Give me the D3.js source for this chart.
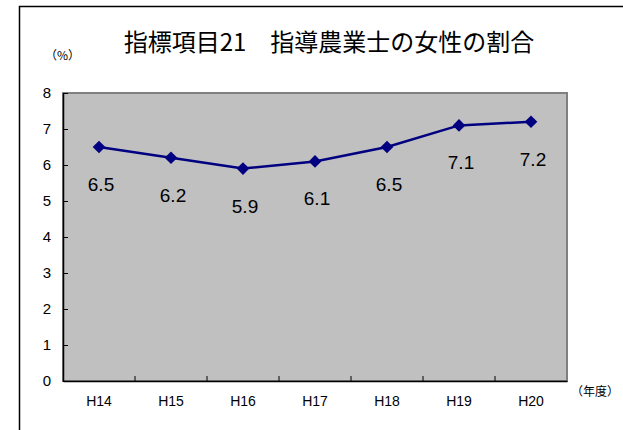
<!DOCTYPE html>
<html>
<head>
<meta charset="utf-8">
<script src="https://cdn.jsdelivr.net/npm/d3@7"></script>
<style>
  body { margin: 0; background: #fff; }
  text { font-family: "Liberation Sans", Arial, sans-serif; fill: #000; }
  .jp { font-family: "Noto Sans CJK JP", sans-serif; }
</style>
</head>
<body>
<script>
const years = ["H14", "H15", "H16", "H17", "H18", "H19", "H20"];
const ratio = [6.5, 6.2, 5.9, 6.1, 6.5, 7.1, 7.2];
const yTicks = [0, 1, 2, 3, 4, 5, 6, 7, 8];
const title = "指標項目21　指導農業士の女性の割合";

const W = 623, H = 430;
const plotL = 63, plotR = 567, plotT = 93, plotB = 381;

var svg = d3.select("body").append("svg")
  .attr("width", W)
  .attr("height", H);

// outer frame of the chart
svg.append("rect")
  .attr("x", 19.5).attr("y", 6.5)
  .attr("width", 620).attr("height", 440)
  .attr("fill", "#fff")
  .attr("stroke", "#000")
  .attr("stroke-width", 1.5);

var x = d3.scaleBand().domain(years).range([plotL, plotR]);
var y = d3.scaleLinear().domain([0, 8]).range([plotB, plotT]);

// plot area
svg.append("rect")
  .attr("x", plotL).attr("y", plotT)
  .attr("width", plotR - plotL).attr("height", plotB - plotT)
  .attr("fill", "#c0c0c0")
  .attr("stroke", "#808080")
  .attr("stroke-width", 2);

// y axis
var yAxis = svg.append("g")
  .attr("transform", "translate(" + plotL + ",0)")
  .call(d3.axisLeft(y).tickValues(yTicks).tickSizeInner(-5).tickSizeOuter(0).tickPadding(12));
yAxis.select(".domain").attr("stroke", "#000").attr("stroke-width", 1.5);
yAxis.selectAll(".tick line").attr("stroke", "#000");
yAxis.selectAll("text").attr("font-size", 15).attr("font-family", "Liberation Sans, Arial, sans-serif");

// x axis: ticks between the categories
var xAxis = svg.append("g")
  .attr("transform", "translate(0," + plotB + ")")
  .call(d3.axisBottom(x).tickSize(0).tickPadding(15));
xAxis.select(".domain").attr("stroke", "#000").attr("stroke-width", 1.5);
xAxis.selectAll("text").attr("font-size", 14).attr("font-family", "Liberation Sans, Arial, sans-serif");

svg.append("g").selectAll("line")
  .data(years.slice(1))
  .enter().append("line")
  .attr("x1", d => x(d)).attr("x2", d => x(d))
  .attr("y1", plotB).attr("y2", plotB - 5)
  .attr("stroke", "#000");

// series line
var line = d3.line()
  .x((d, i) => x(years[i]) + x.bandwidth() / 2)
  .y(d => y(d));

svg.append("path")
  .datum(ratio)
  .attr("d", line)
  .attr("fill", "none")
  .attr("stroke", "#000080")
  .attr("stroke-width", 2.5);

svg.append("g").selectAll("path")
  .data(ratio)
  .enter().append("path")
  .attr("d", d3.symbol().type(d3.symbolSquare).size(80))
  .attr("transform", (d, i) => "translate(" + (x(years[i]) + x.bandwidth() / 2) + "," + y(d) + ") rotate(45)")
  .attr("fill", "#000080");

// data labels below points
svg.append("g").selectAll("text")
  .data(ratio)
  .enter().append("text")
  .attr("x", (d, i) => x(years[i]) + x.bandwidth() / 2 + 2)
  .attr("y", d => y(d) + 44)
  .attr("text-anchor", "middle")
  .attr("font-size", 19)
  .text(d => d.toFixed(1));

// title and unit labels
svg.append("text")
  .attr("class", "jp")
  .attr("x", 329).attr("y", 51)
  .attr("text-anchor", "middle")
  .attr("font-size", 24)
  .text(title);

svg.append("text")
  .attr("class", "jp")
  .attr("x", 45).attr("y", 60)
  .attr("font-size", 12)
  .text("（%）");

svg.append("text")
  .attr("class", "jp")
  .attr("x", 571).attr("y", 396)
  .attr("font-size", 12)
  .text("（年度）");
</script>
</body>
</html>
